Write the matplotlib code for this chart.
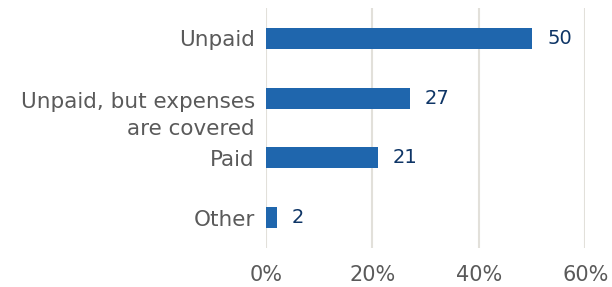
import matplotlib.pyplot as plt
import matplotlib.transforms as mtransforms

categories = ['Unpaid', 'Unpaid, but expenses\nare covered', 'Paid', 'Other']
values = [50, 27, 21, 2]
xticks = [0, 20, 40, 60]
xtick_labels = ['0%', '20%', '40%', '60%']

bar_color = '#1f66ad'
label_color = '#0e3566'
text_grey = '#5a5a5a'

plt.rcParams['font.family'] = ['DejaVu Sans']

fig = plt.figure(figsize=(6.12, 2.87), dpi=100)
ax = fig.add_axes([0.4346, 0.136, 0.5216, 0.836])

pos = list(range(len(categories)))
ax.barh(pos, values, height=0.35, color=bar_color, zorder=3)

for i, v in zip(pos, values):
    ax.annotate(str(v), (v, i), xytext=(11, 0), textcoords='offset points',
                va='center', ha='left', fontsize=14, color=label_color)

ax.set_xlim(0, 60)
ax.set_ylim(3.5, -0.5)
ax.set_xticks(xticks)
ax.set_xticklabels(xtick_labels, fontsize=15, color=text_grey)
ax.set_yticks(pos)
ax.set_yticklabels(categories, fontsize=15.5, color=text_grey, linespacing=1.45)
ax.tick_params(axis='both', length=0)
ax.tick_params(axis='x', pad=12)
ax.tick_params(axis='y', pad=8)

# move the two-line label down so its first line sits on the bar
for lab in ax.get_yticklabels():
    if '\n' in lab.get_text():
        lab.set_transform(lab.get_transform() +
                          mtransforms.ScaledTranslation(0, -0.12, fig.dpi_scale_trans))

ax.grid(axis='x', color='#e2e0da', linewidth=1.5, zorder=0)
for s in ax.spines.values():
    s.set_visible(False)

fig.savefig('out.png', dpi=100)
